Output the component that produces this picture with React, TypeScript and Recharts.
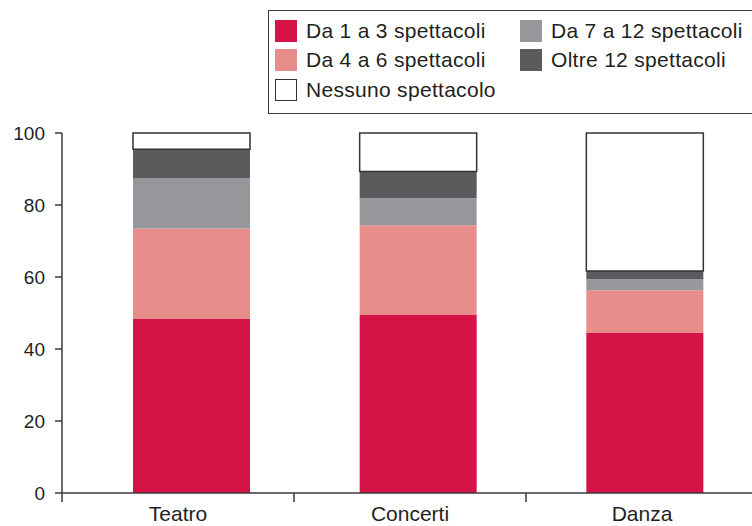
import React from 'react';
import { Bar, BarChart, Legend, XAxis, YAxis } from 'recharts';

const categories = ['Teatro', 'Concerti', 'Danza'];
const da1a3 = [48.5, 49.6, 44.6];
const da4a6 = [25.0, 24.8, 11.7];
const da7a12 = [14.0, 7.5, 3.1];
const oltre12 = [8.0, 7.4, 2.3];
const nessuno = [4.5, 10.7, 38.3];
const yTicks = [0, 20, 40, 60, 80, 100];

const FONT = '"Liberation Sans", Arial, sans-serif';
const INK = '#231f20';
const AXIS = '#3a3a3a';

interface SeriesDef {
  key: string;
  name: string;
  fill: string;
  stroke?: string;
}

const series: SeriesDef[] = [
  { key: 'a', name: 'Da 1 a 3 spettacoli', fill: '#d51346' },
  { key: 'b', name: 'Da 4 a 6 spettacoli', fill: '#e78d8a' },
  { key: 'c', name: 'Da 7 a 12 spettacoli', fill: '#96979b' },
  { key: 'd', name: 'Oltre 12 spettacoli', fill: '#5a5b5d' },
  { key: 'e', name: 'Nessuno spettacolo', fill: '#ffffff', stroke: '#333333' }
];

// legend reads row by row: two columns
const legendOrder = ['a', 'c', 'b', 'd', 'e'];

const data = categories.map((name, i) => ({
  name,
  a: da1a3[i],
  b: da4a6[i],
  c: da7a12[i],
  d: oltre12[i],
  e: nessuno[i]
}));

const LegendBox: React.FC = () => (
  <div
    style={{
      boxSizing: 'border-box',
      width: '100%',
      height: '100%',
      border: `1.5px solid ${AXIS}`,
      padding: '5px 0 0 6px',
      display: 'grid',
      gridTemplateColumns: '245px auto',
      gridAutoRows: '29.5px',
      fontFamily: FONT,
      fontSize: 21,
      color: INK
    }}
  >
    {legendOrder.map((key) => {
      const s = series.find((d) => d.key === key)!;
      return (
        <div key={key} style={{ display: 'flex', alignItems: 'center' }}>
          <span
            style={{
              display: 'inline-block',
              boxSizing: 'border-box',
              width: 22,
              height: 22,
              background: s.fill,
              border: s.stroke ? `1.5px solid ${s.stroke}` : 'none',
              marginRight: 9
            }}
          />
          <span style={{ whiteSpace: 'nowrap', letterSpacing: 0.3 }}>{s.name}</span>
        </div>
      );
    })}
  </div>
);

interface TickProps {
  x?: number;
  y?: number;
  width?: number;
  payload?: { value: string };
}

const CategoryTick: React.FC<TickProps> = ({ x = 0, y = 0, width = 0, payload }) => {
  const axisY = y - 13;
  const half = width / categories.length / 2;
  return (
    <g>
      <line x1={x - half} x2={x - half} y1={axisY} y2={axisY + 9} stroke={AXIS} strokeWidth={1.5} />
      <text x={x} y={axisY + 28} textAnchor="middle" fontFamily={FONT} fontSize={21} fill={INK}>
        {payload?.value}
      </text>
    </g>
  );
};

const App: React.FC = () => (
  <div style={{ position: 'absolute', left: 0, top: 0, width: 752, height: 526, overflow: 'hidden', background: '#fff' }}>
    <BarChart width={758} height={526} data={data} margin={{ top: 133, right: 0, bottom: 0, left: 0 }}>
      <XAxis
        xAxisId="labels"
        dataKey="name"
        height={33}
        axisLine={{ stroke: AXIS, strokeWidth: 1.5 }}
        tickLine={false}
        tickSize={9}
        tickMargin={4}
        tick={<CategoryTick />}
        interval={0}
      />
      <XAxis xAxisId="bars" dataKey="name" orientation="top" height={0} hide padding={{ left: 16, right: 0 }} />
      <YAxis
        domain={[0, 100]}
        ticks={yTicks}
        width={62}
        axisLine={{ stroke: AXIS, strokeWidth: 1.5 }}
        tickLine={{ stroke: AXIS, strokeWidth: 1.5 }}
        tickSize={7}
        tickMargin={10}
        tick={{ fontFamily: FONT, fontSize: 19, fill: INK }}
        interval={0}
      />
      <Legend
        layout="horizontal"
        align="center"
        verticalAlign="middle"
        wrapperStyle={{ top: 10, left: 268, width: 520, height: 104 }}
        content={<LegendBox />}
      />
      {series.map((s) => (
        <Bar
          key={s.key}
          xAxisId="bars"
          dataKey={s.key}
          name={s.name}
          stackId="s"
          barSize={117}
          fill={s.fill}
          stroke={s.stroke ?? 'none'}
          strokeWidth={s.stroke ? 1.5 : 0}
          isAnimationActive={false}
        />
      ))}
    </BarChart>
  </div>
);

export default App;
